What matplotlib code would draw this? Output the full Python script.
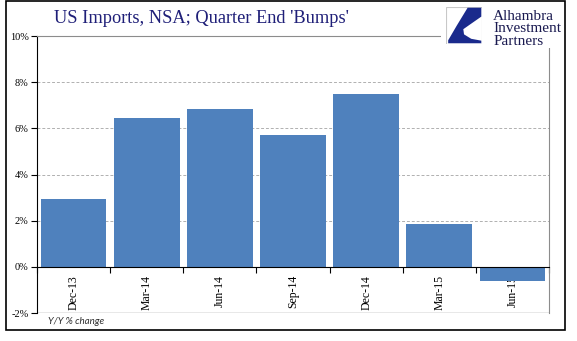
import matplotlib.pyplot as plt
from matplotlib.patches import Rectangle, Polygon
from matplotlib.ticker import FixedLocator, NullFormatter, FuncFormatter

quarters = ['Dec-13', 'Mar-14', 'Jun-14', 'Sep-14', 'Dec-14', 'Mar-15', 'Jun-15']
yoy_change = [2.95, 6.45, 6.85, 5.7, 7.5, 1.85, -0.6]

serif = ['Liberation Serif', 'DejaVu Serif']
navy = '#1f1f78'
bar_blue = '#4f81bd'

fig = plt.figure(figsize=(5.77, 3.41), dpi=100)
ax = fig.add_axes([0.0641, 0.0821, 0.8874, 0.8123])

x = list(range(len(quarters)))
ax.bar(x, yoy_change, width=0.9, color=bar_blue, zorder=2)

ax.set_xlim(-0.5, len(quarters) - 0.5)
ax.set_ylim(-2, 10)
ax.set_yticks([-2, 0, 2, 4, 6, 8, 10])
ax.yaxis.set_major_formatter(FuncFormatter(lambda v, p: f'{v:.0f}%'))
for t in ax.get_yticklabels():
    t.set_fontfamily(serif)
    t.set_fontsize(7.5)
ax.tick_params(axis='y', length=4, width=0.8, pad=2, color='black')

# dashed grid at the inner levels
for level in [2, 4, 6, 8]:
    ax.axhline(level, color='#b0b0b0', lw=0.7, ls=(0, (3, 2)), zorder=1)

# zero line carries the category ticks; labels sit under it
ax.spines['bottom'].set_position(('data', 0))
ax.spines['bottom'].set_color('black')
ax.spines['bottom'].set_zorder(3)
ax.xaxis.set_major_locator(FixedLocator([i - 0.5 for i in range(len(quarters) + 1)]))
ax.xaxis.set_major_formatter(NullFormatter())
ax.xaxis.set_minor_locator(FixedLocator(x))
ax.set_xticklabels(quarters, minor=True, rotation=90, fontfamily=serif, fontsize=8.5)
ax.tick_params(axis='x', which='major', length=4, width=0.8, direction='out')
ax.tick_params(axis='x', which='minor', length=0, pad=6)

ax.axhline(-2, color='#8c8c8c', lw=1.0, zorder=1)
ax.spines['left'].set_color('black')
ax.spines['top'].set_color('#8c8c8c')
ax.spines['right'].set_color('#8c8c8c')

fig.text(0.083, 0.056, 'Y/Y % change', fontsize=7, style='italic',
         family=['Lato', 'DejaVu Sans'], color='#303030', va='center')

fig.text(0.093, 0.945, "US Imports, NSA; Quarter End 'Bumps'",
         fontsize=13.2, family=serif, color=navy, va='center')

# logo block in the top right
logo = fig.add_axes([0.765, 0.86, 0.2, 0.138])
logo.set_xlim(0, 1)
logo.set_ylim(0, 1)
logo.axis('off')
logo.add_patch(Rectangle((0, 0), 1, 1, facecolor='white', edgecolor='none'))
mark = fig.add_axes([0.773, 0.871, 0.0624, 0.1085])
mark.set_xlim(0, 1)
mark.set_ylim(0, 1)
mark.axis('off')
mark.add_patch(Rectangle((0, 0), 1, 1, facecolor='white', edgecolor='#c8c8c8', lw=0.8))
mark.add_patch(Polygon([(0.6, 0.98), (0.98, 0.98), (0.98, 0.74), (0.7, 0.55),
                        (0.48, 0.4), (0.5, 0.26), (0.7, 0.14), (0.98, 0.09),
                        (0.98, 0.02), (0.06, 0.02), (0.06, 0.1), (0.3, 0.5)],
                       closed=True, facecolor='#1a2a8c', edgecolor='none'))
for i, word in enumerate(['Alhambra', 'Investment', 'Partners']):
    fig.text(0.855, 0.953 - i * 0.038, word, fontsize=11, family=serif,
             color='#1a1a50', va='center')

# outer frame
fig.patches.append(Rectangle((0.0104, 0.032), 0.969, 0.965, transform=fig.transFigure,
                             fill=False, edgecolor='black', lw=1.2))

fig.savefig('out.png', dpi=100)
